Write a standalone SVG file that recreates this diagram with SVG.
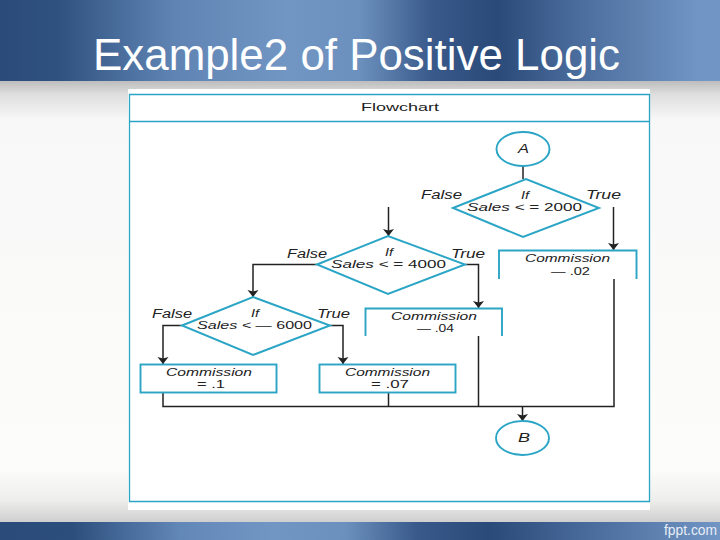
<svg xmlns="http://www.w3.org/2000/svg" width="720" height="540" viewBox="0 0 720 540">
<style>
text{font-family:"Liberation Sans",Arial,sans-serif;fill:#222}
.i{font-style:italic}
.l{font-size:12px}
.s{font-size:10px}
.t{font-size:10.5px}
.u{font-style:normal}
.n{fill:#fff;stroke:#2ba5c6;stroke-width:1.900}
.c{fill:none;stroke:#222;stroke-width:1.500}
.f{fill:#fff}
</style>
<defs>
<linearGradient id="hd" x1="0" x2="720" y1="0" y2="0" gradientUnits="userSpaceOnUse">
<stop offset="0" stop-color="#2b4c7b"/><stop offset=".08" stop-color="#2f5180"/><stop offset=".24" stop-color="#5f84b3"/><stop offset=".4" stop-color="#7296c4"/><stop offset=".5" stop-color="#6c90be"/><stop offset=".6" stop-color="#38598a"/><stop offset=".69" stop-color="#2a4a79"/><stop offset=".8" stop-color="#4a6c9c"/><stop offset=".97" stop-color="#7195c4"/><stop offset="1" stop-color="#7195c4"/>
</linearGradient>
<linearGradient id="ft" x1="0" x2="720" y1="0" y2="0" gradientUnits="userSpaceOnUse">
<stop offset="0" stop-color="#2b4c7b"/><stop offset=".1" stop-color="#2c4e7d"/><stop offset=".25" stop-color="#6288b8"/><stop offset=".38" stop-color="#7296c4"/><stop offset=".48" stop-color="#6c90be"/><stop offset=".58" stop-color="#38598a"/><stop offset=".68" stop-color="#2a4a79"/><stop offset=".82" stop-color="#4a6c9c"/><stop offset="1" stop-color="#7195c4"/>
</linearGradient>
<linearGradient id="bg" x1="0" x2="0" y1="81" y2="522" gradientUnits="userSpaceOnUse">
<stop offset="0" stop-color="#bdbdbd"/><stop offset=".03" stop-color="#dedede"/><stop offset=".09" stop-color="#f8f8f8"/><stop offset=".88" stop-color="#fcfcfb"/><stop offset=".95" stop-color="#eeeeed"/><stop offset="1" stop-color="#d0cfcf"/>
</linearGradient>
<marker id="a" markerUnits="userSpaceOnUse" markerWidth="7" markerHeight="12" refX="7" refY="6" orient="auto">
<path d="M0 0.500L7 6L0 11.500L1.500 6Z" fill="#222"/>
</marker>
</defs>
<g id="background">
<rect x="0" y="81" width="720" height="441" fill="url(#bg)"/>
<rect x="0" y="0" width="720" height="81" fill="url(#hd)"/>
<rect x="0" y="522" width="720" height="18" fill="url(#ft)"/>
<rect x="128" y="89" width="522" height="421" fill="#fff"/>
<path d="M129.500 94V501.500M129 94.500H649.500V501.500H129M129 121.500H649.500" fill="none" stroke="#2ba5c6" stroke-width="1.300"/>
<text x="93" y="69.500" font-size="44" textLength="527" lengthAdjust="spacingAndGlyphs" style="fill:#fff">Example2 of Positive Logic</text>
<text x="664" y="535" font-size="14" textLength="53" lengthAdjust="spacingAndGlyphs" style="fill:#e8eef6">fppt.com</text>
<text x="361" y="111" font-size="11.500" textLength="78" lengthAdjust="spacingAndGlyphs">Flowchart</text>
</g>
<g id="connectors">
<path class="c" d="M523 166V179"/>
<path class="c" d="M613.500 207V250" marker-end="url(#a)"/>
<path class="c" d="M388.500 207V236" marker-end="url(#a)"/>
<path class="c" d="M465 264.500H478.500V308" marker-end="url(#a)"/>
<path class="c" d="M317 264.500H253V297" marker-end="url(#a)"/>
<path class="c" d="M182 325.500H163V364" marker-end="url(#a)"/>
<path class="c" d="M330 325.500H343V364" marker-end="url(#a)"/>
<path class="c" d="M163 393V406.500H614V279"/>
<path class="c" d="M388.500 393V406.500"/>
<path class="c" d="M478.500 336V406.500"/>
<path class="c" d="M522.500 406.500V421" marker-end="url(#a)"/>
</g>
<g id="node-a">
<ellipse class="n" cx="523" cy="149" rx="26.500" ry="17"/>
<text class="i" x="518" y="153" font-size="12" textLength="11" lengthAdjust="spacingAndGlyphs">A</text>
</g>
<g id="decision-2000">
<path class="n" d="M453 208L526 179L599 208L523 237Z"/>
<text class="i s" x="521" y="199" textLength="8" lengthAdjust="spacingAndGlyphs">If</text>
<text class="i t" x="467" y="211" textLength="115" lengthAdjust="spacingAndGlyphs">Sales &lt; <tspan class="u">= 2000</tspan></text>
<text class="i l" x="421" y="199" textLength="41" lengthAdjust="spacingAndGlyphs">False</text>
<text class="i l" x="586" y="199" textLength="35" lengthAdjust="spacingAndGlyphs">True</text>
</g>
<g id="commission-02">
<path class="n f" d="M499 279V250.500H636.500V279"/>
<text class="i s" x="525" y="262" textLength="85" lengthAdjust="spacingAndGlyphs">Commission</text>
<text class="t" x="551" y="275" textLength="39" lengthAdjust="spacingAndGlyphs">— .02</text>
</g>
<g id="decision-4000">
<path class="n" d="M317 264.500L388 236L465 264.500L388 294Z"/>
<text class="i s" x="385" y="256" textLength="8" lengthAdjust="spacingAndGlyphs">If</text>
<text class="i t" x="331" y="268" textLength="115" lengthAdjust="spacingAndGlyphs">Sales &lt; <tspan class="u">= 4000</tspan></text>
<text class="i l" x="287" y="258" textLength="40" lengthAdjust="spacingAndGlyphs">False</text>
<text class="i l" x="451" y="258" textLength="34" lengthAdjust="spacingAndGlyphs">True</text>
</g>
<g id="commission-04">
<path class="n f" d="M365.500 336V308.500H502V336"/>
<text class="i s" x="391" y="320" textLength="86" lengthAdjust="spacingAndGlyphs">Commission</text>
<text class="t" x="417" y="332" textLength="37" lengthAdjust="spacingAndGlyphs">— .04</text>
</g>
<g id="decision-6000">
<path class="n" d="M182 325.500L253 297L330 325.500L253 355Z"/>
<text class="i s" x="251" y="317" textLength="8" lengthAdjust="spacingAndGlyphs">If</text>
<text class="i t" x="197" y="329" textLength="115" lengthAdjust="spacingAndGlyphs">Sales &lt; <tspan class="u">— 6000</tspan></text>
<text class="i l" x="152" y="318" textLength="40" lengthAdjust="spacingAndGlyphs">False</text>
<text class="i l" x="317" y="318" textLength="33" lengthAdjust="spacingAndGlyphs">True</text>
</g>
<g id="commission-1">
<rect class="n" x="140.500" y="364.500" width="136" height="28"/>
<text class="i s" x="166" y="376" textLength="86" lengthAdjust="spacingAndGlyphs">Commission</text>
<text class="t" x="197" y="388" textLength="28" lengthAdjust="spacingAndGlyphs">= .1</text>
</g>
<g id="commission-07">
<rect class="n" x="319.500" y="364.500" width="136" height="28"/>
<text class="i s" x="345" y="376" textLength="85" lengthAdjust="spacingAndGlyphs">Commission</text>
<text class="t" x="371" y="388" textLength="38" lengthAdjust="spacingAndGlyphs">= .07</text>
</g>
<g id="node-b">
<ellipse class="n" cx="522.500" cy="438" rx="26.500" ry="17"/>
<text class="i" x="518" y="442" font-size="12" textLength="12" lengthAdjust="spacingAndGlyphs">B</text>
</g>
</svg>
